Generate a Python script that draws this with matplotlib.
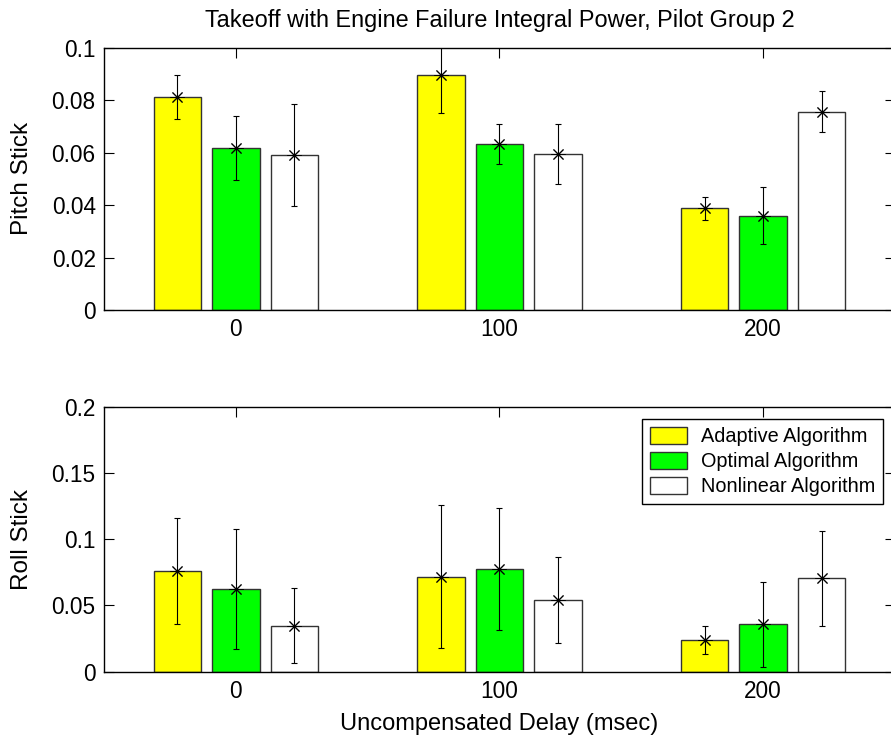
import matplotlib
matplotlib.use('Agg')
import matplotlib.pyplot as plt
import numpy as np

plt.rcParams['font.family'] = ['Liberation Sans', 'DejaVu Sans']

delays = ['0', '100', '200']
algorithms = ['Adaptive Algorithm', 'Optimal Algorithm', 'Nonlinear Algorithm']
colors = ['#ffff00', '#00ff00', '#ffffff']

# pitch stick: means and error half-widths per algorithm, per delay
pitch_adaptive = [0.0813, 0.0895, 0.0388]
pitch_optimal = [0.0618, 0.0632, 0.0360]
pitch_nonlinear = [0.0590, 0.0596, 0.0756]
pitch_adaptive_err = [0.0084, 0.0145, 0.0043]
pitch_optimal_err = [0.0123, 0.0077, 0.0109]
pitch_nonlinear_err = [0.0195, 0.0115, 0.0077]

# roll stick
roll_adaptive = [0.0760, 0.0717, 0.0237]
roll_optimal = [0.0622, 0.0773, 0.0358]
roll_nonlinear = [0.0347, 0.0539, 0.0705]
roll_adaptive_err = [0.0400, 0.0540, 0.0107]
roll_optimal_err = [0.0454, 0.0460, 0.0320]
roll_nonlinear_err = [0.0282, 0.0325, 0.0358]

pitch_ticks = [0, 0.02, 0.04, 0.06, 0.08, 0.1]
pitch_ticklabels = ['0', '0.02', '0.04', '0.06', '0.08', '0.1']
roll_ticks = [0, 0.05, 0.1, 0.15, 0.2]
roll_ticklabels = ['0', '0.05', '0.1', '0.15', '0.2']

fig = plt.figure(figsize=(8.91, 7.36), dpi=100)
ax1 = fig.add_axes([0.1167, 0.5788, 0.8878, 0.3564])
ax2 = fig.add_axes([0.1167, 0.0874, 0.8878, 0.3601])

x = np.arange(len(delays))
offsets = [-0.222, 0.0, 0.222]
width = 0.18


def draw(ax, means, errs, ylim, ticks, ticklabels, ylabel):
    for m, e, off, c, lab in zip(means, errs, offsets, colors, algorithms):
        ax.bar(x + off, m, width, color=c, edgecolor='#333333', linewidth=1.0,
               label=lab, zorder=2)
        ax.errorbar(x + off, m, yerr=e, fmt='none', ecolor='black',
                    elinewidth=0.8, capsize=2, capthick=0.8, zorder=3)
        ax.plot(x + off, m, linestyle='none', marker=(8, 2, 0), markersize=10,
                markeredgewidth=0.7, color='black', zorder=4)
    ax.set_xlim(-0.5, 2.5)
    ax.set_ylim(*ylim)
    ax.set_xticks(x)
    ax.set_xticklabels(delays)
    ax.set_yticks(ticks)
    ax.set_yticklabels(ticklabels)
    ax.tick_params(direction='in', length=7, width=0.8, labelsize=16.3,
                   top=True, right=True, pad=6)
    ax.set_ylabel(ylabel, fontsize=17.5)
    ax.yaxis.set_label_coords(-0.0898, 0.5)
    for s in ax.spines.values():
        s.set_linewidth(1.0)


draw(ax1, [pitch_adaptive, pitch_optimal, pitch_nonlinear],
     [pitch_adaptive_err, pitch_optimal_err, pitch_nonlinear_err],
     (0, 0.1), pitch_ticks, pitch_ticklabels, 'Pitch Stick')
draw(ax2, [roll_adaptive, roll_optimal, roll_nonlinear],
     [roll_adaptive_err, roll_optimal_err, roll_nonlinear_err],
     (0, 0.2), roll_ticks, roll_ticklabels, 'Roll Stick')

ax1.set_title('Takeoff with Engine Failure Integral Power, Pilot Group 2',
              fontsize=16.9, pad=15)
ax2.set_xlabel('Uncompensated Delay (msec)', fontsize=17, labelpad=7)

handles, labels = ax2.get_legend_handles_labels()
bar_handles = [h for h in handles if h.__class__.__name__ == 'BarContainer']
leg = ax2.legend(bar_handles, algorithms, loc='upper right',
                 bbox_to_anchor=(883 / 891, 1 - 419 / 736),
                 bbox_transform=fig.transFigure, fontsize=14.3,
                 fancybox=False, edgecolor='black', framealpha=1,
                 handlelength=1.85, handleheight=0.95, labelspacing=0.28,
                 handletextpad=0.7, borderpad=0.4, borderaxespad=0)
leg.get_frame().set_linewidth(1.0)

fig.savefig('out.png', dpi=100)
